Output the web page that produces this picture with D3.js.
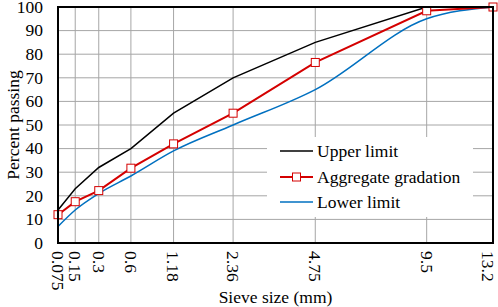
<!DOCTYPE html>
<html>
<head>
<meta charset="utf-8">
<script src="https://cdn.jsdelivr.net/npm/d3@7"></script>
<style>
  body { margin: 0; background: #fff; }
  text { font-family: "Liberation Serif", "Times New Roman", serif; fill: #000; }
</style>
</head>
<body>
<svg id="chart" width="498" height="307"></svg>
<script>
// Sieve sizes (mm) and percent passing
const sieves = [0.075, 0.15, 0.3, 0.6, 1.18, 2.36, 4.75, 9.5, 13.2];
const sieveLabels = ['0.075', '0.15', '0.3', '0.6', '1.18', '2.36', '4.75', '9.5', '13.2'];
const upperLimit = [14, 23, 32, 40, 55, 70, 85, 100, 100];
const aggregate = [12, 17.5, 22.2, 31.7, 42, 55, 76.5, 98.4, 100];
const lowerLimit = [7, 14, 21, 28.4, 39, 50, 65, 95, 100];
const yTicks = [0, 10, 20, 30, 40, 50, 60, 70, 80, 90, 100];

// Plot area
const margin = { top: 7, right: 5, bottom: 64, left: 58 };
const W = 498, H = 307;
const svg = d3.select('#chart');
const g = svg.append('g').attr('transform', `translate(${margin.left},${margin.top})`);
const width = W - margin.left - margin.right;
const height = H - margin.top - margin.bottom;

// 0.45 power chart for gradation
const x = d3.scalePow().exponent(0.45).domain([0.075, 13.2]).range([0, width]);
const y = d3.scaleLinear().domain([0, 100]).range([height, 0]);

// Grid lines
g.selectAll('.hgrid').data(yTicks).join('line')
    .attr('x1', 0).attr('x2', width)
    .attr('y1', d => y(d)).attr('y2', d => y(d))
    .attr('stroke', '#a6a6a6').attr('stroke-width', 1);
g.selectAll('.vgrid').data(sieves).join('line')
    .attr('x1', d => x(d)).attr('x2', d => x(d))
    .attr('y1', 0).attr('y2', height)
    .attr('stroke', '#a6a6a6').attr('stroke-width', 1);

// Y tick labels
g.selectAll('.ylab').data(yTicks).join('text')
    .attr('x', -15).attr('y', d => y(d)).attr('dy', '0.33em')
    .attr('text-anchor', 'end').style('font-size', '17.5px')
    .text(d => d);

// X tick labels (rotated)
g.selectAll('.xlab').data(sieves).join('text')
    .attr('transform', (d, i) => `translate(${Math.min(x(d), width - 5)},${height + 8}) rotate(90)`)
    .attr('dy', '0.35em')
    .attr('text-anchor', 'start').style('font-size', '17.5px')
    .text((d, i) => sieveLabels[i]);

// Axis titles
svg.append('text')
    .attr('x', margin.left + width / 2).attr('y', 303)
    .attr('text-anchor', 'middle').style('font-size', '17.5px')
    .text('Sieve size (mm)');
svg.append('text')
    .attr('transform', `translate(13,${margin.top + height / 2}) rotate(-90)`)
    .attr('text-anchor', 'middle').attr('dy', '0.35em').style('font-size', '17.5px')
    .text('Percent passing');

// Legend background (white box covering grid)
const legX = 267, legY = 137;
svg.append('rect')
    .attr('x', legX).attr('y', legY).attr('width', 206).attr('height', 80)
    .attr('fill', '#fff');

// Series lines
const line = d3.line().x(d => x(d[0])).y(d => y(d[1]));
const smooth = d3.line().x(d => x(d[0])).y(d => y(d[1])).curve(d3.curveMonotoneX);

g.append('path')
    .datum(sieves.map((s, i) => [s, upperLimit[i]]))
    .attr('fill', 'none').attr('stroke', '#000').attr('stroke-width', 1.5)
    .attr('d', line);
g.append('path')
    .datum(sieves.map((s, i) => [s, lowerLimit[i]]))
    .attr('fill', 'none').attr('stroke', '#0070c0').attr('stroke-width', 1.5)
    .attr('d', smooth);
const aggData = sieves.map((s, i) => [s, aggregate[i]]);
g.append('path')
    .datum(aggData)
    .attr('fill', 'none').attr('stroke', '#d40000').attr('stroke-width', 2)
    .attr('d', line);
g.selectAll('.mk').data(aggData).join('rect')
    .attr('x', d => x(d[0]) - 4).attr('y', d => y(d[1]) - 4)
    .attr('width', 8).attr('height', 8)
    .attr('fill', '#fff').attr('stroke', '#d40000').attr('stroke-width', 1);

// Plot border
g.append('rect')
    .attr('x', 0).attr('y', 0).attr('width', width).attr('height', height)
    .attr('fill', 'none').attr('stroke', '#000').attr('stroke-width', 2);

// Legend entries
const legend = [
    { name: 'Upper limit', color: '#000', marker: false, y: 151 },
    { name: 'Aggregate gradation', color: '#d40000', marker: true, y: 177 },
    { name: 'Lower limit', color: '#0070c0', marker: false, y: 202 }
];
legend.forEach(l => {
    svg.append('line')
        .attr('x1', 280).attr('x2', 313).attr('y1', l.y).attr('y2', l.y)
        .attr('stroke', l.color).attr('stroke-width', l.marker ? 2 : 1.5);
    if (l.marker) {
        svg.append('rect')
            .attr('x', 292.5).attr('y', l.y - 4).attr('width', 8).attr('height', 8)
            .attr('fill', '#fff').attr('stroke', l.color).attr('stroke-width', 1);
    }
    svg.append('text')
        .attr('x', 317).attr('y', l.y).attr('dy', '0.35em')
        .style('font-size', '17.5px')
        .text(l.name);
});
</script>
</body>
</html>
